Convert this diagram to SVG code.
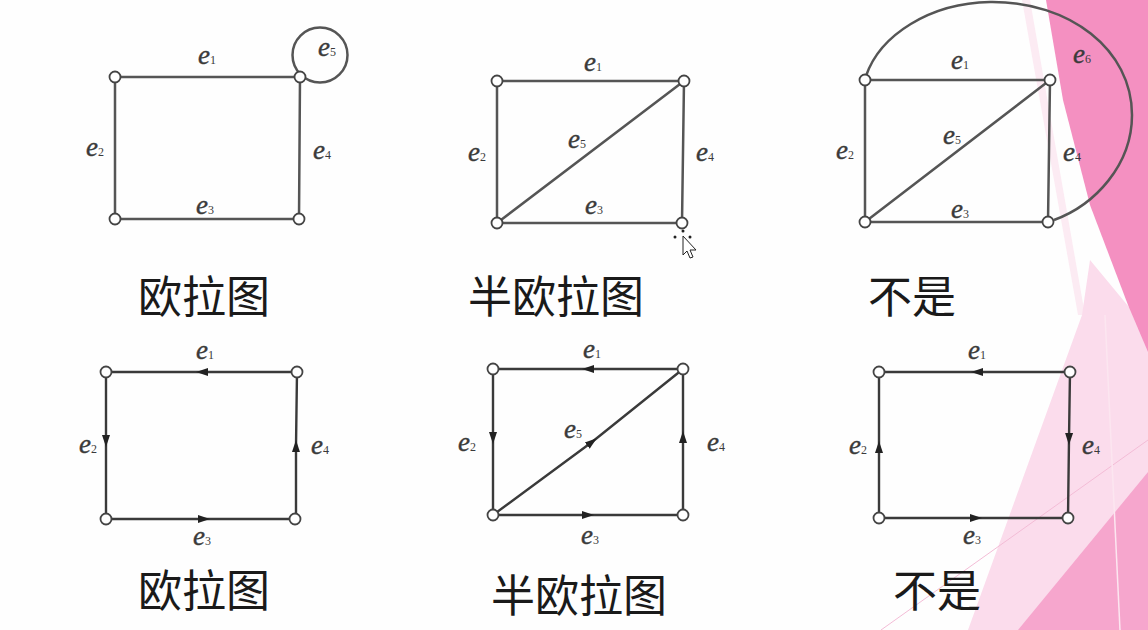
<svg xmlns="http://www.w3.org/2000/svg" width="1148" height="630" viewBox="0 0 1148 630">
<defs>
<style>
.bg{fill:#fefefe}
.e{fill:none;stroke:#555;stroke-width:2.5}
.ed{fill:none;stroke:#3a3a3a;stroke-width:2.4}
.n{fill:#fff;stroke:#444;stroke-width:1.8}
.lb{font-family:"Liberation Serif",serif;font-style:italic;font-size:27px;fill:#3a3a3a;stroke:#3a3a3a;stroke-width:0.4}
.sub{font-style:normal;font-size:12px;stroke-width:0}
.cn{font-family:"Noto Sans CJK SC",sans-serif;font-size:44px;fill:#1a1a1a}
</style>
<marker id="arr" markerUnits="userSpaceOnUse" markerWidth="14" markerHeight="10" refX="6" refY="5" orient="auto">
<path d="M0,1 L12,5 L0,9 z" fill="#222"/>
</marker>
</defs>
<rect class="bg" x="0" y="0" width="1148" height="630"/>
<g id="decor">
<polygon points="1022,0 1030,0 1085,315 1078,315" fill="#fcebf3"/>
<polygon points="1090,260 1148,330 1148,630 968,630 1082,315" fill="#fbdcec"/>
<polygon points="1046,0 1148,0 1148,352 1128,305 1090,205 1063,100" fill="#f490c1"/>
<polygon points="1148,472 1148,630 1018,630" fill="#f6a6cd"/>
<line x1="1148" y1="440" x2="881" y2="630" stroke="#f3bcd6" stroke-width="1"/>
<line x1="1105" y1="315" x2="1120" y2="630" stroke="#fce6f0" stroke-width="1.5"/>
</g>
<g id="connectors">
<path class="e" d="M115,77 H300 M115,77 V219 M115,219 H299 M300,77 L299,219"/>
<circle class="e" cx="320" cy="55" r="27.5"/>
<path class="e" d="M497,81 H684 M497,81 V223 M497,223 H682 M684,81 L682,223 M497,223 L684,81"/>
<path class="e" d="M865,80 H1050 M865,80 V222 M865,222 H1048 M1050,80 L1048,222 M865,222 L1050,80"/>
<path class="e" d="M866,76 C880,35 930,3 990,2 C1070,1 1132,50 1132,115 C1132,165 1095,205 1054,220"/>
<path class="ed" marker-mid="url(#arr)" d="M297,372 L202,372 L106,372"/>
<path class="ed" marker-mid="url(#arr)" d="M106,372 L106,441 L106,519"/>
<path class="ed" marker-mid="url(#arr)" d="M106,519 L204,519 L295,519"/>
<path class="ed" marker-mid="url(#arr)" d="M296,519 L296,446 L297,372"/>
<path class="ed" marker-mid="url(#arr)" d="M683,369 L588,369 L493,369"/>
<path class="ed" marker-mid="url(#arr)" d="M493,369 L493,438 L493,515"/>
<path class="ed" marker-mid="url(#arr)" d="M493,515 L588,515 L683,515"/>
<path class="ed" marker-mid="url(#arr)" d="M683,515 L683,437 L683,369"/>
<path class="ed" marker-mid="url(#arr)" d="M493,515 L592,442 L683,369"/>
<path class="ed" marker-mid="url(#arr)" d="M1070,372 L977,372 L879,372"/>
<path class="ed" marker-mid="url(#arr)" d="M879,518 L879,447 L879,372"/>
<path class="ed" marker-mid="url(#arr)" d="M879,518 L976,518 L1068,518"/>
<path class="ed" marker-mid="url(#arr)" d="M1070,372 L1069,439 L1068,518"/>
</g>
<g id="g1">
<circle class="n" cx="115" cy="77" r="5.5"/><circle class="n" cx="300" cy="77" r="5.5"/>
<circle class="n" cx="115" cy="219" r="5.5"/><circle class="n" cx="299" cy="219" r="5.5"/>
<text class="lb" x="207" y="64" text-anchor="middle">e<tspan class="sub">1</tspan></text>
<text class="lb" x="95" y="156" text-anchor="middle">e<tspan class="sub">2</tspan></text>
<text class="lb" x="205" y="214" text-anchor="middle">e<tspan class="sub">3</tspan></text>
<text class="lb" x="322" y="159" text-anchor="middle">e<tspan class="sub">4</tspan></text>
<text class="lb" x="327" y="56" text-anchor="middle">e<tspan class="sub">5</tspan></text>
<text class="cn" x="138" y="313">欧拉图</text>
</g>
<g id="g2">
<circle class="n" cx="497" cy="81" r="5.5"/><circle class="n" cx="684" cy="81" r="5.5"/>
<circle class="n" cx="497" cy="223" r="5.5"/><circle class="n" cx="682" cy="223" r="5.5"/>
<text class="lb" x="593" y="71" text-anchor="middle">e<tspan class="sub">1</tspan></text>
<text class="lb" x="477" y="161" text-anchor="middle">e<tspan class="sub">2</tspan></text>
<text class="lb" x="594" y="214" text-anchor="middle">e<tspan class="sub">3</tspan></text>
<text class="lb" x="705" y="161" text-anchor="middle">e<tspan class="sub">4</tspan></text>
<text class="lb" x="577" y="148" text-anchor="middle">e<tspan class="sub">5</tspan></text>
<text class="cn" x="468" y="313">半欧拉图</text>
</g>
<g id="cursor">
<polygon points="683,236 683,255 687,251 690,258 693,257 690,250 696,250" fill="#fff" stroke="#222" stroke-width="1"/>
<circle cx="675" cy="237" r="1.5" fill="#222"/><circle cx="690" cy="237" r="1.5" fill="#222"/><circle cx="683" cy="231" r="1.5" fill="#222"/>
</g>
<g id="g3">
<circle class="n" cx="865" cy="80" r="5.5"/><circle class="n" cx="1050" cy="80" r="5.5"/>
<circle class="n" cx="865" cy="222" r="5.5"/><circle class="n" cx="1048" cy="222" r="5.5"/>
<text class="lb" x="960" y="69" text-anchor="middle">e<tspan class="sub">1</tspan></text>
<text class="lb" x="845" y="159" text-anchor="middle">e<tspan class="sub">2</tspan></text>
<text class="lb" x="960" y="218" text-anchor="middle">e<tspan class="sub">3</tspan></text>
<text class="lb" x="1072" y="161" text-anchor="middle">e<tspan class="sub">4</tspan></text>
<text class="lb" x="952" y="144" text-anchor="middle">e<tspan class="sub">5</tspan></text>
<text class="lb" x="1082" y="63" text-anchor="middle">e<tspan class="sub">6</tspan></text>
<text class="cn" x="868" y="313">不是</text>
</g>
<g id="g4">
<circle class="n" cx="106" cy="372" r="5.5"/><circle class="n" cx="297" cy="372" r="5.5"/>
<circle class="n" cx="106" cy="519" r="5.5"/><circle class="n" cx="295" cy="519" r="5.5"/>
<text class="lb" x="205" y="359" text-anchor="middle">e<tspan class="sub">1</tspan></text>
<text class="lb" x="88" y="453" text-anchor="middle">e<tspan class="sub">2</tspan></text>
<text class="lb" x="202" y="545" text-anchor="middle">e<tspan class="sub">3</tspan></text>
<text class="lb" x="320" y="454" text-anchor="middle">e<tspan class="sub">4</tspan></text>
<text class="cn" x="138" y="607">欧拉图</text>
</g>
<g id="g5">
<circle class="n" cx="493" cy="369" r="5.5"/><circle class="n" cx="683" cy="369" r="5.5"/>
<circle class="n" cx="493" cy="515" r="5.5"/><circle class="n" cx="683" cy="515" r="5.5"/>
<text class="lb" x="592" y="358" text-anchor="middle">e<tspan class="sub">1</tspan></text>
<text class="lb" x="467" y="451" text-anchor="middle">e<tspan class="sub">2</tspan></text>
<text class="lb" x="590" y="544" text-anchor="middle">e<tspan class="sub">3</tspan></text>
<text class="lb" x="716" y="451" text-anchor="middle">e<tspan class="sub">4</tspan></text>
<text class="lb" x="573" y="438" text-anchor="middle">e<tspan class="sub">5</tspan></text>
<text class="cn" x="491" y="612">半欧拉图</text>
</g>
<g id="g6">
<circle class="n" cx="879" cy="372" r="5.5"/><circle class="n" cx="1070" cy="372" r="5.5"/>
<circle class="n" cx="879" cy="518" r="5.5"/><circle class="n" cx="1068" cy="518" r="5.5"/>
<text class="lb" x="977" y="359" text-anchor="middle">e<tspan class="sub">1</tspan></text>
<text class="lb" x="858" y="454" text-anchor="middle">e<tspan class="sub">2</tspan></text>
<text class="lb" x="972" y="544" text-anchor="middle">e<tspan class="sub">3</tspan></text>
<text class="lb" x="1091" y="454" text-anchor="middle">e<tspan class="sub">4</tspan></text>
<text class="cn" x="893" y="607">不是</text>
</g>
</svg>
